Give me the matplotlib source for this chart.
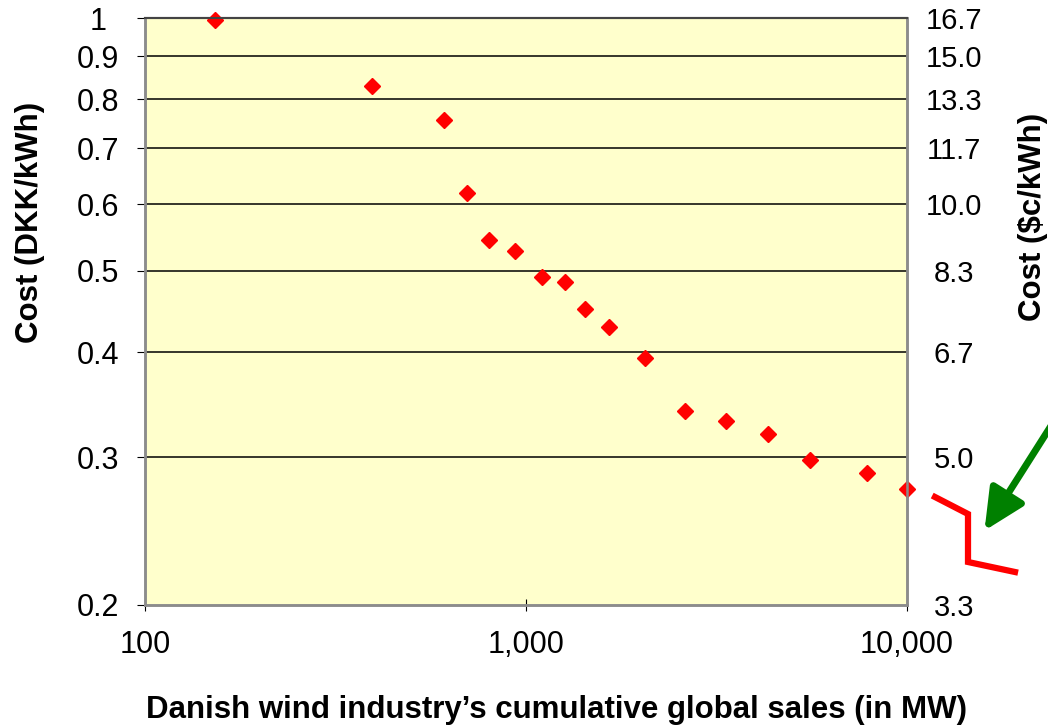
import matplotlib.pyplot as plt
from matplotlib.ticker import NullLocator, NullFormatter
from matplotlib.lines import Line2D

# cumulative global sales (MW) vs cost (DKK/kWh)
sales_mw = [153, 394, 609, 700, 800, 936, 1102, 1266, 1429, 1651,
            2052, 2614, 3349, 4317, 5561, 7854, 10000]
cost_dkk = [0.995, 0.830, 0.756, 0.619, 0.544, 0.528, 0.492, 0.485, 0.450, 0.429,
            0.394, 0.340, 0.331, 0.320, 0.298, 0.287, 0.275]

left_ticks = [1.0, 0.9, 0.8, 0.7, 0.6, 0.5, 0.4, 0.3, 0.2]
left_labels = ['1', '0.9', '0.8', '0.7', '0.6', '0.5', '0.4', '0.3', '0.2']
right_labels = ['16.7', '15.0', '13.3', '11.7', '10.0', '8.3', '6.7', '5.0', '3.3']
x_ticks = [100, 1000, 10000]
x_labels = ['100', '1,000', '10,000']

plt.rcParams.update({
    'font.family': ['Liberation Sans', 'DejaVu Sans'],
})

W, H = 1048, 726
fig = plt.figure(figsize=(W / 100, H / 100), dpi=100)
ax = fig.add_axes([145 / W, 1 - 605 / H, (907 - 145) / W, (605 - 18) / H])
ax.set_facecolor('#FFFFCC')

ax.set_xscale('log')
ax.set_yscale('log')
ax.set_xlim(100, 10000)
ax.set_ylim(0.2, 1.0)

for yv in left_ticks[1:-1]:
    ax.axhline(yv, color='black', linewidth=1.1, zorder=1)

ax.plot(sales_mw, cost_dkk, linestyle='none', marker='D', markersize=8,
        color='#FF0000', zorder=3, clip_on=False)

ax.set_xticks(x_ticks)
ax.set_xticklabels(x_labels, fontsize=22)
ax.xaxis.set_minor_locator(NullLocator())
ax.xaxis.set_minor_formatter(NullFormatter())
ax.tick_params(axis='x', direction='inout', length=8, pad=14, color='black')

ax.set_yticks(left_ticks)
ax.set_yticklabels(left_labels, fontsize=22, ha='center')
ax.yaxis.set_minor_locator(NullLocator())
ax.yaxis.set_minor_formatter(NullFormatter())
ax.tick_params(axis='y', direction='out', length=6, pad=28)

ax2 = ax.twinx()
ax2.set_yscale('log')
ax2.set_ylim(0.2, 1.0)
ax2.set_yticks(left_ticks)
ax2.set_yticklabels(right_labels, fontsize=21, ha='center')
ax2.yaxis.set_minor_locator(NullLocator())
ax2.yaxis.set_minor_formatter(NullFormatter())
ax2.tick_params(axis='y', length=0, pad=34)

for a in (ax, ax2):
    for side in ['left', 'right', 'bottom']:
        a.spines[side].set_color('#8C8C8C')
        a.spines[side].set_linewidth(1.8)
    a.spines['top'].set_color('#444444')
    a.spines['top'].set_linewidth(1.5)

fig.text(30 / W, 1 - 222 / H, 'Cost (DKK/kWh)', rotation=90, fontsize=22.5,
         fontweight='bold', ha='center', va='center')
fig.text(1033 / W, 1 - 217 / H, 'Cost ($c/kWh)', rotation=90, fontsize=22.5,
         fontweight='bold', ha='center', va='center')
fig.text(557 / W, 1 - 718 / H, 'Danish wind industry\u2019s cumulative global sales (in MW)',
         fontsize=22.5, fontweight='bold', ha='center', va='baseline')

# red break symbol and green arrow beside the plot
bx = [935, 968, 968, 1015]
by = [497, 514, 562, 572]
fig.add_artist(Line2D([v / W for v in bx], [1 - v / H for v in by],
                      transform=fig.transFigure, color='#FF0000', linewidth=4.5,
                      solid_joinstyle='miter'))
ax.annotate('', xy=(983 / W, 1 - 533 / H), xytext=(1056 / W, 1 - 418 / H),
            xycoords='figure fraction', textcoords='figure fraction',
            arrowprops=dict(arrowstyle='-|>,head_length=2.5,head_width=1.2',
                            color='#008000', linewidth=5),
            annotation_clip=False)

fig.savefig('out.png', dpi=100)
